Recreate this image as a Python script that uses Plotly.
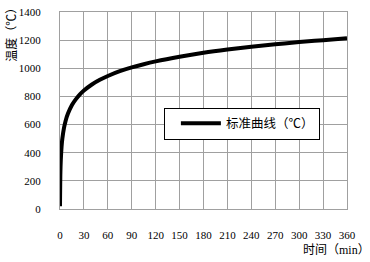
import plotly.graph_objects as go

# Values (standard fire curve)
time_min = [0, 0.5, 1, 2, 3, 5, 7, 10, 15, 20, 25, 30, 40, 50, 60, 75, 90, 105, 120,
            150, 180, 210, 240, 270, 300, 330, 360]
temp_c = [20, 261, 349, 445, 502, 576, 626, 678, 739, 781, 815, 842, 885, 918, 945, 979,
          1006, 1029, 1049, 1082, 1110, 1133, 1153, 1170, 1186, 1200, 1214]
x_ticks = [0, 30, 60, 90, 120, 150, 180, 210, 240, 270, 300, 330, 360]
y_ticks = [0, 200, 400, 600, 800, 1000, 1200, 1400]
series_name = "标准曲线（℃）"

FONT = "Liberation Serif, Noto Sans CJK SC, serif"

fig = go.Figure()
fig.add_trace(go.Scatter(
    x=time_min, y=temp_c, mode="lines", name=series_name,
    line=dict(color="black", width=4, shape="spline"),
))

fig.update_layout(
    width=370, height=262,
    margin=dict(l=60, r=23, t=12, b=53, autoexpand=False),
    paper_bgcolor="white", plot_bgcolor="white",
    font=dict(family=FONT, size=11, color="black"),
    showlegend=True,
    legend=dict(
        x=0.362, y=0.515, xanchor="left", yanchor="top",
        bgcolor="white", bordercolor="black", borderwidth=1,
        font=dict(family=FONT, size=12.5, color="black"),
        itemwidth=40, indentation=11,
    ),
    xaxis=dict(
        range=[0, 360], tickvals=x_ticks, ticktext=[str(v) for v in x_ticks],
        showgrid=True, gridcolor="#a0a0a0", gridwidth=1,
        showline=True, linecolor="#a0a0a0", linewidth=1, mirror=True,
        zeroline=False, ticks="", ticklabelstandoff=16, automargin=False,
    ),
    yaxis=dict(
        range=[0, 1400], tickvals=y_ticks, ticktext=[str(v) for v in y_ticks],
        showgrid=True, gridcolor="#a0a0a0", gridwidth=1,
        showline=True, linecolor="#a0a0a0", linewidth=1, mirror=True,
        zeroline=False, ticks="", ticklabelstandoff=16, automargin=False,
    ),
    annotations=[
        dict(text="温度（℃）", xref="paper", yref="paper", x=-0.167, y=0.9,
             xanchor="center", yanchor="middle", textangle=-90, showarrow=False,
             font=dict(family=FONT, size=12, color="black")),
        dict(text="时间（min）", xref="paper", yref="paper", x=0.962, y=-0.208,
             xanchor="center", yanchor="middle", showarrow=False,
             font=dict(family=FONT, size=12, color="black")),
    ],
)

fig.write_html("out.html", config={"displayModeBar": False},
               post_script="document.body.style.margin='0px';")
